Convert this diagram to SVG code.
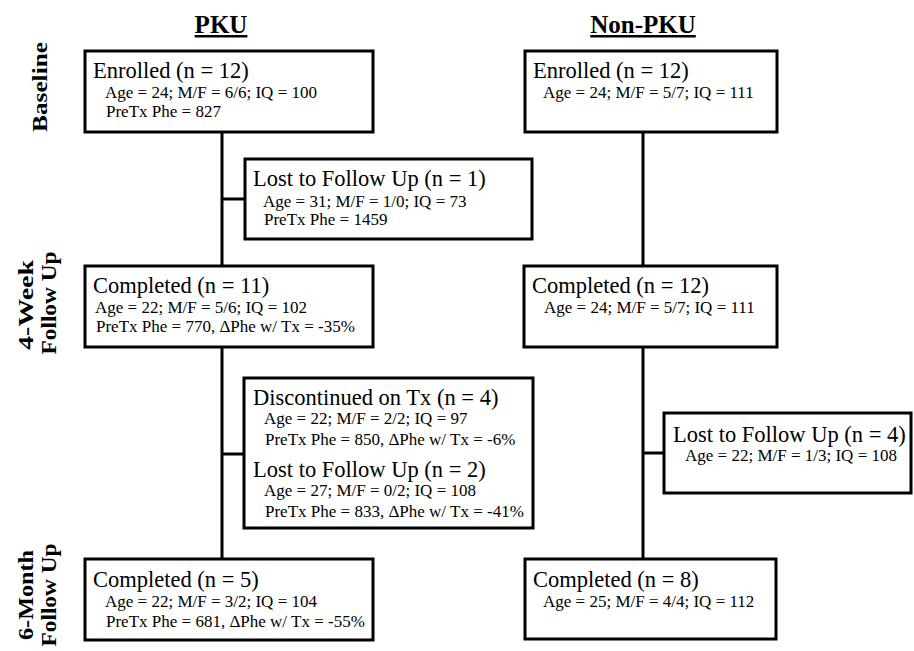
<svg xmlns="http://www.w3.org/2000/svg" width="914" height="651" viewBox="0 0 914 651">
<style>
text{font-family:"Liberation Serif","Times New Roman",serif;fill:#000}
.box{fill:#fff;stroke:#000;stroke-width:3}
.conn line{stroke:#000;stroke-width:3}
.h{font-size:22.5px}
.d{font-size:17px}
.col{font-size:25px;font-weight:bold;text-decoration:underline;text-anchor:middle}
.side{font-size:22px;font-weight:bold;text-anchor:middle}
</style>
<rect width="914" height="651" fill="#fff"/>
<g id="headings">
<text class="col" x="221" y="33">PKU</text>
<text class="col" x="643" y="33">Non-PKU</text>
</g>
<g id="phase-labels">
<text class="side" transform="translate(47,87) rotate(-90)" textLength="90" lengthAdjust="spacingAndGlyphs">Baseline</text>
<text class="side" transform="translate(33,305) rotate(-90)" textLength="90" lengthAdjust="spacingAndGlyphs">4-Week</text>
<text class="side" transform="translate(56,303) rotate(-90)" textLength="103" lengthAdjust="spacingAndGlyphs">Follow Up</text>
<text class="side" transform="translate(33,595) rotate(-90)" textLength="90" lengthAdjust="spacingAndGlyphs">6-Month</text>
<text class="side" transform="translate(56,595) rotate(-90)" textLength="103" lengthAdjust="spacingAndGlyphs">Follow Up</text>
</g>
<g class="conn" id="connectors">
<line x1="222" y1="132" x2="222" y2="266"/>
<line x1="222" y1="347" x2="222" y2="559"/>
<line x1="222" y1="199" x2="245" y2="199"/>
<line x1="222" y1="454" x2="244" y2="454"/>
<line x1="643" y1="132" x2="643" y2="266"/>
<line x1="643" y1="347" x2="643" y2="559"/>
<line x1="643" y1="453" x2="664" y2="453"/>
</g>
<g id="pku-enrolled">
<rect class="box" x="85" y="51" width="288" height="81"/>
<text class="h" x="93" y="78">Enrolled (n = 12)</text>
<text class="d" x="105" y="98">Age = 24; M/F = 6/6; IQ = 100</text>
<text class="d" x="106" y="117">PreTx Phe = 827</text>
</g>
<g id="nonpku-enrolled">
<rect class="box" x="525" y="51" width="252" height="81"/>
<text class="h" x="533" y="78">Enrolled (n = 12)</text>
<text class="d" x="543" y="98">Age = 24; M/F = 5/7; IQ = 111</text>
</g>
<g id="pku-lost1">
<rect class="box" x="245" y="159" width="287" height="80"/>
<text class="h" x="253" y="186">Lost to Follow Up (n = 1)</text>
<text class="d" x="263" y="207">Age = 31; M/F = 1/0; IQ = 73</text>
<text class="d" x="264" y="225">PreTx Phe = 1459</text>
</g>
<g id="pku-completed-4wk">
<rect class="box" x="85" y="266" width="288" height="81"/>
<text class="h" x="93" y="293">Completed (n = 11)</text>
<text class="d" x="95" y="313">Age = 22; M/F = 5/6; IQ = 102</text>
<text class="d" x="96" y="332">PreTx Phe = 770, ΔPhe w/ Tx = -35%</text>
</g>
<g id="nonpku-completed-4wk">
<rect class="box" x="524" y="266" width="253" height="81"/>
<text class="h" x="532" y="293">Completed (n = 12)</text>
<text class="d" x="544" y="313">Age = 24; M/F = 5/7; IQ = 111</text>
</g>
<g id="pku-discontinued-lost">
<rect class="box" x="244" y="378" width="289" height="150"/>
<text class="h" x="253" y="405">Discontinued on Tx (n = 4)</text>
<text class="d" x="264" y="424">Age = 22; M/F = 2/2; IQ = 97</text>
<text class="d" x="265" y="445">PreTx Phe = 850, ΔPhe w/ Tx = -6%</text>
<text class="h" x="253" y="477">Lost to Follow Up (n = 2)</text>
<text class="d" x="264" y="496">Age = 27; M/F = 0/2; IQ = 108</text>
<text class="d" x="265" y="517">PreTx Phe = 833, ΔPhe w/ Tx = -41%</text>
</g>
<g id="nonpku-lost4">
<rect class="box" x="664" y="413" width="247" height="80"/>
<text class="h" x="673" y="442">Lost to Follow Up (n = 4)</text>
<text class="d" x="685" y="461">Age = 22; M/F = 1/3; IQ = 108</text>
</g>
<g id="pku-completed-6mo">
<rect class="box" x="85" y="559" width="288" height="81"/>
<text class="h" x="93" y="587">Completed (n = 5)</text>
<text class="d" x="105" y="607">Age = 22; M/F = 3/2; IQ = 104</text>
<text class="d" x="106" y="627">PreTx Phe = 681, ΔPhe w/ Tx = -55%</text>
</g>
<g id="nonpku-completed-6mo">
<rect class="box" x="525" y="559" width="251" height="80"/>
<text class="h" x="533" y="587">Completed (n = 8)</text>
<text class="d" x="543" y="607">Age = 25; M/F = 4/4; IQ = 112</text>
</g>
</svg>
